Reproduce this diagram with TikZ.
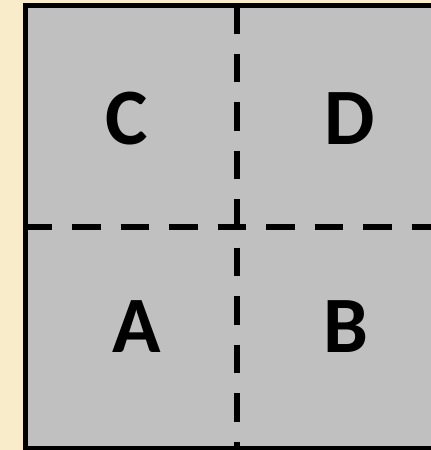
\documentclass[tikz,border=0pt]{standalone}
\usepackage{fontspec}
\setmainfont{Carlito}
\definecolor{paper}{RGB}{249,236,203}
\definecolor{panel}{RGB}{192,192,192}
\tikzset{
  quadlabel/.style={font=\bfseries\fontsize{80}{80}\selectfont, inner sep=0pt, anchor=base},
  divider/.style={line width=5.5pt, dash pattern=on 28.5pt off 20pt},
}
\begin{document}
\begin{tikzpicture}[x=1pt,y=-1pt]
  % page background and frame
  \useasboundingbox (0,0) rectangle (431,450);
  \clip (0,0) rectangle (431,450);
  \fill[paper] (0,0) rectangle (431,450);
  \filldraw[fill=panel, draw=black, line width=4.5pt] (25.5,5.5) rectangle (460,448.5);
  % dividers between the four quadrants
  \coordinate (hl) at (23.5,227);
  \coordinate (hr) at (460,227);
  \coordinate (vt) at (237,5);
  \coordinate (vb) at (237,460);
  \draw[divider] (hl) -- (hr);
  \draw[divider] (vt) -- (vb);
  % quadrant labels
  \node[quadlabel] (C) at (127,144) {C};
  \node[quadlabel] (D) at (350,144) {D};
  \node[quadlabel] (A) at (137,352) {A};
  \node[quadlabel] (B) at (346,352) {B};
\end{tikzpicture}
\end{document}
